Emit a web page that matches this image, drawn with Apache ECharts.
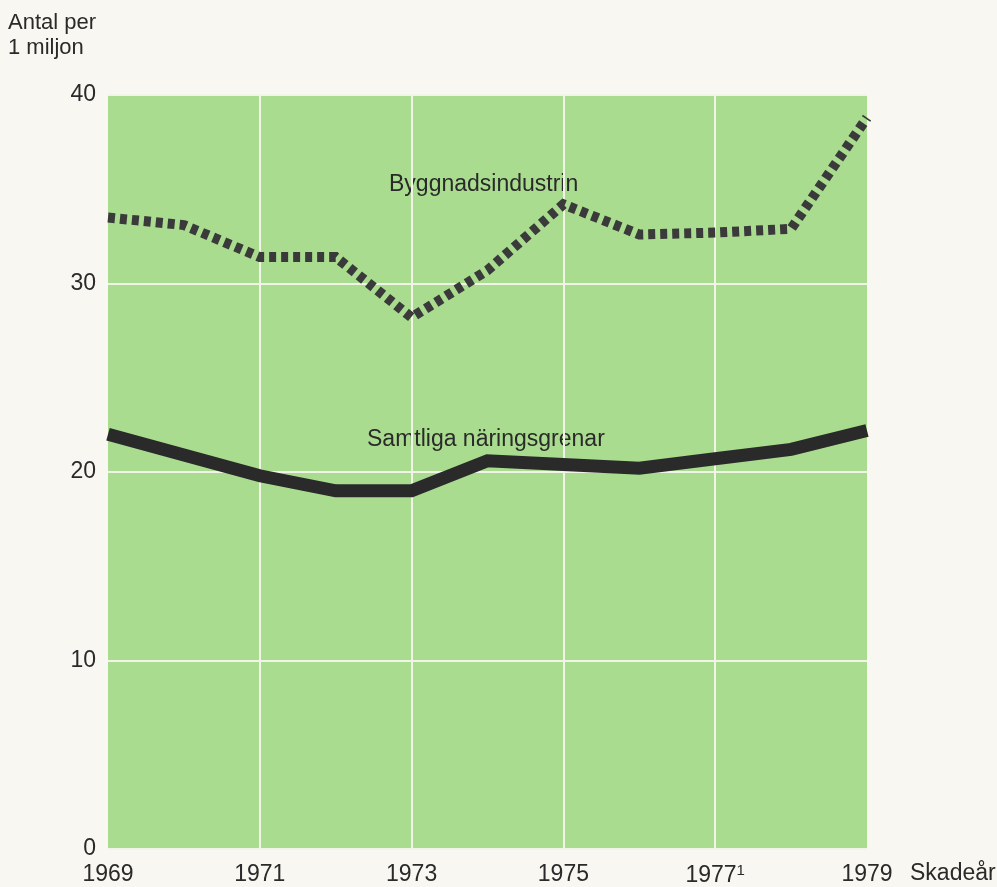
<!DOCTYPE html>
<html>
<head>
<meta charset="utf-8">
<script src="https://cdn.jsdelivr.net/npm/echarts@6/dist/echarts.min.js"></script>
<style>
html,body{margin:0;padding:0;background:#f8f7f2;}
#c{width:997px;height:887px;}
</style>
</head>
<body>
<div id="c"></div>
<script>
const years = ['1969','1970','1971','1972','1973','1974','1975','1976','1977','1978','1979'];
const byggnadsindustrin = [33.5, 33.1, 31.4, 31.4, 28.2, 30.7, 34.2, 32.6, 32.7, 32.9, 38.8];
const samtliga = [22.0, 20.9, 19.8, 19.0, 19.0, 20.6, 20.4, 20.2, 20.7, 21.2, 22.2];
const yTicks = [0, 10, 20, 30, 40];
const yAxisTitle = 'Antal per\n1 miljon';
const xAxisTitle = 'Skadeår';
const labelBygg = 'Byggnadsindustrin';
const labelSamt = 'Samtliga näringsgrenar';

const chart = echarts.init(document.getElementById('c'), null, {renderer:'canvas'});
const narrow = '"Liberation Sans Narrow", "Liberation Sans", Arial, sans-serif';
const option = {
  backgroundColor: '#f8f7f2',
  animation: false,
  grid: {left:108, right:130, top:95, bottom:37, show:true, backgroundColor:'#a9dc8f', borderWidth:0},
  xAxis: {
    type:'category', data: years, boundaryGap:false,
    axisLine:{show:false}, axisTick:{show:false},
    axisLabel:{
      interval:1, margin:14, color:'#2a2a2a', fontSize:23, fontFamily:narrow,
      formatter: v => v === '1977' ? '1977{s|1}' : v,
      rich:{s:{fontSize:15, verticalAlign:'top', padding:[0,0,10,0], color:'#2a2a2a', fontFamily:narrow}}
    },
    splitLine:{show:true, interval:(i)=> i%2===0 && i>0 && i<10, lineStyle:{color:'#f1f5e8', width:2}}
  },
  yAxis: {
    type:'value', min:yTicks[0], max:yTicks[yTicks.length-1], interval:10,
    axisLine:{show:false}, axisTick:{show:false},
    axisLabel:{margin:12, color:'#2a2a2a', fontSize:23, fontFamily:narrow},
    splitLine:{show:true, lineStyle:{color:'#f1f5e8', width:2}}
  },
  series: [
    {type:'line', data: byggnadsindustrin, symbol:'none', z:3,
     lineStyle:{color:'#3a3a3a', width:10, type:[7,5], cap:'butt', join:'miter'}},
    {type:'line', data: samtliga, symbol:'none', z:3,
     lineStyle:{color:'#2a2a2a', width:13, cap:'butt', join:'miter'}}
  ],
  graphic: [
    {type:'text', left:8, top:10, style:{text:yAxisTitle, font:'22px "Liberation Sans", Arial, sans-serif', fill:'#2a2a2a', lineHeight:25}},
    {type:'text', left:910, top:862, style:{text:xAxisTitle, font:'23px '+narrow, fill:'#2a2a2a'}},
    {type:'text', left:389, top:173, style:{text:labelBygg, font:'23px "Liberation Sans", Arial, sans-serif', fill:'#2a2a2a'}},
    {type:'text', left:367, top:428, style:{text:labelSamt, font:'23px '+narrow, fill:'#2a2a2a'}}
  ]
};
chart.setOption(option);
</script>
</body>
</html>
